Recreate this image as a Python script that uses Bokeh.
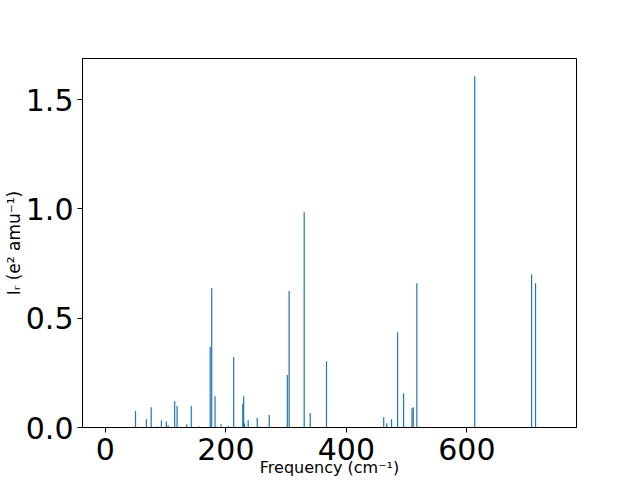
from bokeh.plotting import figure
from bokeh.models import Range1d, FixedTicker, NumeralTickFormatter
from bokeh.embed import file_html
from bokeh.resources import INLINE

# Vibrational frequencies (cm^-1) and IR intensities
freq = [50, 68, 76, 86, 93, 101, 104, 115, 119, 135, 142.5, 156, 174, 176.5,
        182, 192, 204, 213, 228, 229.5, 231, 237, 252, 255, 272, 302, 305,
        330, 340, 367, 462, 467, 475, 485, 495, 509, 511, 517, 613, 707.5, 714]
intensity = [0.075, 0.038, 0.093, 0.005, 0.033, 0.029, 0.010, 0.120, 0.098,
             0.015, 0.098, 0.005, 0.368, 0.637, 0.143, 0.015, 0.007, 0.322,
             0.107, 0.143, 0.020, 0.033, 0.043, 0.005, 0.057, 0.240, 0.624,
             0.985, 0.066, 0.303, 0.047, 0.020, 0.038, 0.436, 0.157, 0.088,
             0.093, 0.660, 1.607, 0.700, 0.660]
x_ticks = [0, 200, 400, 600]
y_ticks = [0.0, 0.5, 1.0, 1.5]
x_label = "Frequency (cm⁻¹)"
y_label = "Iᵣ (e² amu⁻¹)"

p = figure(width=640, height=480, output_backend="svg", toolbar_location=None,
           x_range=Range1d(-38, 782), y_range=Range1d(0, 1.688),
           min_border_left=81, min_border_right=64, min_border_top=58,
           min_border_bottom=53)

p.vbar(x=freq, top=intensity, bottom=0, width=2, color="#1f77b4", line_width=0)

p.grid.visible = False
p.outline_line_color = "black"
p.outline_line_width = 1
p.outline_line_alpha = 1

for ax in (p.xaxis[0], p.yaxis[0]):
    ax.major_label_text_font = "DejaVu Sans"
    ax.major_label_text_font_size = "30px"
    ax.major_label_text_color = "black"
    ax.major_tick_in = 0
    ax.major_tick_out = 5
    ax.major_tick_line_width = 1
    ax.major_tick_line_color = "black"
    ax.minor_tick_line_color = None
    ax.axis_line_color = "black"
    ax.axis_label_text_font = "DejaVu Sans"
    ax.axis_label_text_font_style = "normal"
    ax.axis_label_text_color = "black"

p.xaxis[0].ticker = FixedTicker(ticks=x_ticks)
p.yaxis[0].ticker = FixedTicker(ticks=y_ticks)
p.yaxis[0].formatter = NumeralTickFormatter(format="0.0")

p.yaxis[0].major_label_standoff = 4
p.yaxis[0].axis_label = y_label
p.yaxis[0].axis_label_text_font_size = "17px"
p.yaxis[0].axis_label_standoff = -1

p.xaxis[0].major_label_standoff = 5
p.xaxis[0].axis_label = x_label
p.xaxis[0].axis_label_text_font_size = "16px"
p.xaxis[0].axis_label_standoff = -5

open("out.html", "w").write(file_html(p, INLINE))
